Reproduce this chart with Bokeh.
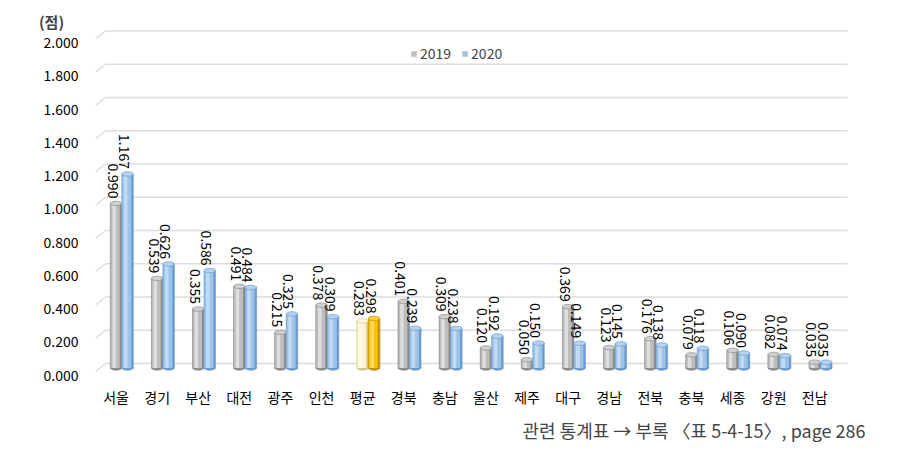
import math
from bokeh.plotting import figure
from bokeh.models import (Range1d, LinearAxis, FixedTicker, Legend, LegendItem, Label,
                          ColumnDataSource, CustomJSTickFormatter)
from bokeh.embed import file_html
from bokeh.resources import INLINE
from bokeh.core.properties import value

regions = ["서울", "경기", "부산", "대전", "광주", "인천", "평균", "경북", "충남",
           "울산", "제주", "대구", "경남", "전북", "충북", "세종", "강원", "전남"]
v2019 = [0.990, 0.539, 0.355, 0.491, 0.215, 0.378, 0.283, 0.401, 0.309,
         0.120, 0.050, 0.369, 0.123, 0.176, 0.079, 0.106, 0.082, 0.035]
v2020 = [1.167, 0.626, 0.586, 0.484, 0.325, 0.309, 0.298, 0.239, 0.238,
         0.192, 0.150, 0.149, 0.145, 0.138, 0.118, 0.090, 0.074, 0.035]
y_ticks = [0.0, 0.2, 0.4, 0.6, 0.8, 1.0, 1.2, 1.4, 1.6, 1.8, 2.0]
series_names = ["2019", "2020"]
unit_label = "(점)"
note_text = "관련 통계표 → 부록 〈표 5-4-15〉, page 286"
avg_name = "평균"

FONT = "Noto Sans CJK KR"
W, H = 895, 443
PX_X = 41.1          # px per category
PX_Y = 166.25        # px per unit
FRONT_LEFT = 95      # px of the front-left plot edge
ZERO_Y = 363         # px of the back-wall zero line
# the frame covers the whole canvas; axes are pinned with fixed_location
X0 = -0.5 - FRONT_LEFT / PX_X
X1 = X0 + W / PX_X
Y1 = ZERO_Y / PX_Y
Y0 = Y1 - H / PX_Y
floor_v = -0.0722    # front floor edge (where category labels hang)

p = figure(width=W, height=H, output_backend="svg", toolbar_location=None,
           x_range=Range1d(X0, X1), y_range=Range1d(Y0, Y1),
           min_border_left=0, min_border_right=0, min_border_top=0, min_border_bottom=0,
           tools="")
p.outline_line_color = None
p.background_fill_color = "white"
p.border_fill_color = "white"
p.xgrid.visible = False
p.ygrid.visible = False
p.axis.visible = False

lab_shift = 11.5 / PX_Y
bar_shift = 4.5 / PX_Y
p.extra_y_ranges = {
    "ylab": Range1d(Y0 + lab_shift, Y1 + lab_shift),
    "bars": Range1d(Y0 + bar_shift, Y1 + bar_shift),
}

gx_front = -0.5
gx_back = gx_front + 10 / PX_X
gx_end = gx_front + (848 - 96) / PX_X
stub_dy = 8 / PX_Y
p.segment(x0=[gx_back] * len(y_ticks), y0=y_ticks, x1=[gx_end] * len(y_ticks), y1=y_ticks,
          line_color="#DCDCDC", line_width=1.5)
p.segment(x0=[gx_back] * len(y_ticks), y0=y_ticks, x1=[gx_front] * len(y_ticks),
          y1=[t - stub_dy for t in y_ticks], line_color="#DCDCDC", line_width=1.5)

yax = LinearAxis(y_range_name="ylab", ticker=FixedTicker(ticks=y_ticks), fixed_location=gx_front)
yax.formatter = CustomJSTickFormatter(code="return tick.toFixed(3);")
yax.axis_line_color = None
yax.major_tick_line_color = None
yax.minor_tick_line_color = None
yax.major_label_standoff = 11
yax.major_label_text_font = FONT
yax.major_label_text_font_size = "14px"
yax.major_label_text_color = "#000000"
p.add_layout(yax, "left")

xs = list(range(len(regions)))
xax = LinearAxis(ticker=FixedTicker(ticks=xs), fixed_location=floor_v,
                 major_label_overrides={i: r for i, r in enumerate(regions)})
xax.axis_line_color = None
xax.major_tick_line_color = None
xax.minor_tick_line_color = None
xax.major_label_standoff = 5
xax.major_label_text_font = FONT
xax.major_label_text_font_size = "14px"
xax.major_label_text_color = "#000000"
p.add_layout(xax, "below")

BW = 0.28
off = [0.0, 0.28]
pal = {
    "2019": dict(edge="#8C8C8C", mid="#BDBDBD", hi="#DEDEDE", cap="#D0D0D0"),
    "2020": dict(edge="#6A9BD0", mid="#9DC3E6", hi="#C2DBF2", cap="#B5D2EE"),
    "avg2019": dict(edge="#D2C690", mid="#FFF2CC", hi="#FFFAE8", cap="#FFF6DA"),
    "avg2020": dict(edge="#C09000", mid="#FFC000", hi="#FFD966", cap="#FFCF3A"),
}

legend_renderers = []
for si, (name, vals) in enumerate(zip(series_names, [v2019, v2020])):
    keys = [("avg" + name) if r == avg_name else name for r in regions]
    src = ColumnDataSource(dict(
        x=[i + off[si] for i in xs],
        xm=[i + off[si] - 0.02 for i in xs],
        xh=[i + off[si] - 0.045 for i in xs],
        top=vals,
        edge=[pal[k]["edge"] for k in keys],
        mid=[pal[k]["mid"] for k in keys],
        hi=[pal[k]["hi"] for k in keys],
        cap=[pal[k]["cap"] for k in keys],
        lab=["%.3f" % v for v in vals],
    ))
    p.ellipse(x="x", y=0, width=BW, height=4.5, height_units="screen", source=src,
              y_range_name="bars", fill_color="edge", line_color="edge", line_width=0.7)
    p.vbar(x="x", width=BW, bottom=0, top="top", source=src, y_range_name="bars",
           fill_color="edge", line_color="edge", line_width=0.6)
    rm = p.vbar(x="xm", width=BW * 0.78, bottom=0, top="top", source=src, y_range_name="bars",
                fill_color="mid", line_color=None)
    legend_renderers.append(rm)
    p.vbar(x="xh", width=BW * 0.3, bottom=0, top="top", source=src, y_range_name="bars",
           fill_color="hi", line_color=None)
    p.ellipse(x="x", y="top", width=BW, height=4.5, height_units="screen", source=src,
              y_range_name="bars", fill_color="cap", line_color="edge", line_width=0.7)
    p.text(x="x", y="top", text="lab", source=src, y_range_name="bars",
           angle=-math.pi / 2, text_align="right", text_baseline="middle",
           x_offset=-3, y_offset=-5, text_font=value(FONT), text_font_size="14px",
           text_color="#000000")

legend = Legend(items=[LegendItem(label=n, renderers=[r], index=0)
                       for n, r in zip(series_names, legend_renderers)],
                orientation="horizontal", location=(410, 380),
                glyph_width=7, glyph_height=7, label_standoff=3, spacing=10,
                label_text_font=FONT, label_text_font_size="14px",
                background_fill_alpha=0, border_line_color=None, padding=0, margin=0)
p.add_layout(legend, "center")

# screen units: x from the frame's left, y up from the frame's bottom (frame = canvas)
p.add_layout(Label(x=51, y=H - 21, x_units="screen", y_units="screen", text=unit_label,
                   text_font=FONT, text_font_size="15px", text_font_style="bold",
                   text_align="center", text_baseline="middle"))
p.add_layout(Label(x=522, y=H - 429, x_units="screen", y_units="screen", text=note_text,
                   text_font=FONT, text_font_size="18px",
                   text_align="left", text_baseline="middle"))

open("out.html", "w").write(file_html(p, INLINE))
